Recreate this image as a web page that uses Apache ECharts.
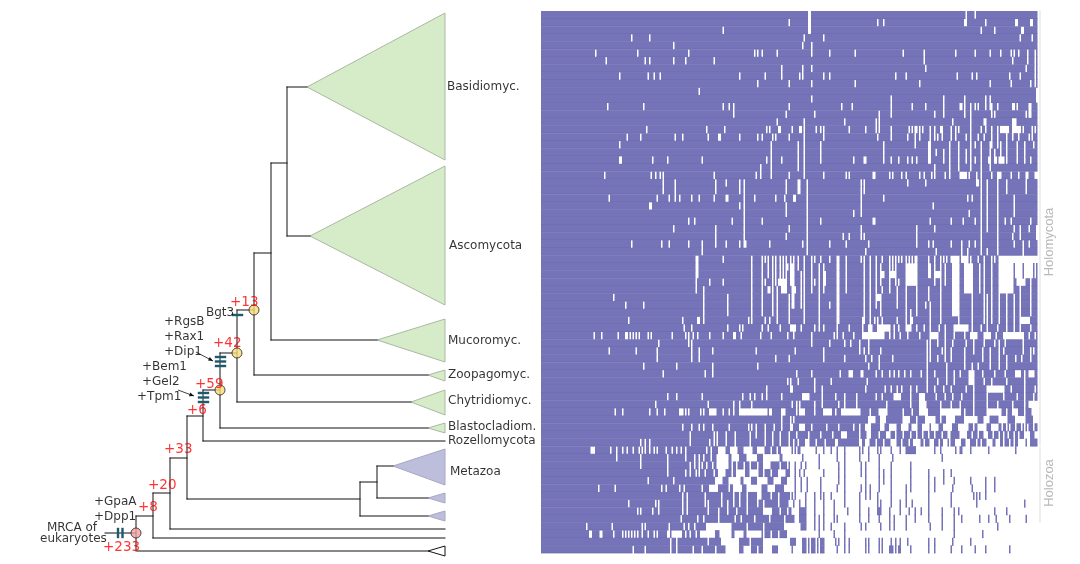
<!DOCTYPE html>
<html><head><meta charset="utf-8">
<style>html,body{margin:0;padding:0;background:#fff}#c{width:1080px;height:564px;filter:blur(0.4px)}</style>
<script src="https://cdn.jsdelivr.net/npm/echarts@6/dist/echarts.min.js"></script>
</head><body><div id="c"></div>
<script>
// Presence / absence matrix: 71 taxa rows x 331 gene columns
const colCount = 331, rowCount = 71, denseFromRow = 57, denseFromCol = 166;
// absent gene columns for each row: a number or an inclusive [from,to] run
const absentRuns = [
[178,179,283,289],
[165,178,179,224,228,282,283,296,[316,317],[326,327]],
[121,178,179,293,302,320,321],
[60,72,175,188,319,327],
[88,174,180],
[36,64,98,142,144,147,157,180,192,209,241,255,276,289,299,306,313,315,318,324,329],
[43,69,72,88,96,115,255,314,324,329],
[160,174,180,256,323,329],
[52,71,75,79,132,149,160,172,174,188,192,236,243,277,287,290,312,319,329],
[144,165,180,209,252,299,313,326,329],
[105,330],
[180,233,268,282,296,299,330],
[44,68,121,125,128,165,200,207,233,247,256,268,279,280,282,286,289,291,296,299,300,304,[314,315],317,325,326],
[128,163,182,225,233,262,268,282,286,300,302,323,325,326],
[157,175,202,223,225,274,286,295,296,[314,316]],
[70,110,122,150,152,[158,159],167,172,173,175,183,186,188,205,216,223,225,233,245,247,249,250,252,254,259,262,266,267,273,276,278,286,293,296,300,304,[306,311],[314,319],321,327,329],
[57,66,89,94,111,118,119,132,144,147,154,156,165,175,188,224,233,244,249,252,259,262,264,267,273,276,283,286,291,295,300,304,310,314,318,325,327],
[52,153,171,175,186,228,249,[258,259],272,278,286,289,293,[299,300],304,306,310,317,322,328],
[153,171,175,186,228,[258,259],263,268,272,278,283,286,293,299,302,306,310,317,322],
[[52,53],74,84,107,150,153,160,171,175,186,208,[215,216],228,233,238,244,247,250,[258,259],268,272,278,283,286,289,293,[298,299],[302,303],[305,308],310,317,322,326],
[146,153,171,175,262,272,278,286,293,299],
[42,73,76,79,81,115,143,146,153,165,175,188,203,205,[221,222],232,234,240,243,252,255,260,262,269,272,[279,283],285,290,293,300,[304,306],313,318,323,324,[329,330]],
[81,89,116,123,132,135,163,171,172,177,213,215,244,256,[290,291],293,297,304,310,323],
[81,89,116,132,135,163,171,172,177,213,215,293,297,304,310,323],
[45,77,85,89,92,100,105,115,[123,124],135,142,156,162,[168,169],177,213,228,284,287,293,297,304,315],
[72,73,132,135,163,177,213,261,293,297,304,315],
[135,163,177,208,213,285,293,297,304,315],
[98,102,127,135,147,177,186,[221,222],259,273,281,289,293,297,304,309,313,326],
[88,116,135,165,177,213,250,262,293,297,304,315,319,325,330],
[116,135,163,177,201,205,213,215,250,293,304,314,319,330],
[60,80,85,98,107,116,123,132,[135,136],152,174,177,192,203,218,250,258,261,273,280,285,289,293,304,315,321,325],
[107,177,216,263,280,284,293,297,304,321],
[[103,104],121,140,147,149,151,154,156,159,161,163,166,168,171,175,180,182,186,192,197,198,203,213,215,219,223,227,232,234,236,238,240,243,245,247,249,250,258,262,266,268,270,[273,278],[280,284],286,291,295,300,302,[305,314],[315,330]],
[[103,104],140,147,151,154,156,159,161,[163,164],[166,168],171,175,180,185,188,197,198,203,215,219,223,226,232,234,236,[243,250],[258,259],262,266,269,[274,278],[282,287],292,295,300,[305,314],[316,320],[322,327],329],
[[103,104],140,147,151,154,156,159,161,163,[166,168],173,175,180,185,[188,189],197,198,203,215,219,223,[226,228],[232,236],[243,250],[258,259],[262,266],269,[274,278],[282,287],292,295,300,[305,314],[316,320],[322,327],329],
[103,112,121,140,147,149,154,156,[158,163],[166,168],173,175,180,182,185,[188,189],197,198,203,215,219,223,226,232,236,238,[243,250],262,266,269,[274,278],[282,287],292,295,300,[305,314],[317,322],326],
[103,108,140,147,[151,152],154,157,[160,163],[167,169],173,175,180,185,188,197,198,203,215,219,223,227,232,237,243,250,258,266,[274,278],[282,287],292,295,300,[305,314],319,326],
[48,108,124,140,147,154,157,165,167,168,173,175,185,197,198,215,219,[223,226],237,243,250,258,266,[274,278],287,295,297,300,305,310,315,319,326],
[56,68,108,124,140,147,154,157,165,[167,168],173,175,185,192,197,198,215,219,223,226,237,243,250,256,259,266,[274,278],287,295,297,300,305,310,315,319,326],
[108,124,140,147,154,157,165,175,185,197,198,215,219,226,243,246,250,259,266,[274,278],287,295,297,300,305,310,315,319,326],
[58,94,104,105,108,138,140,149,152,157,165,175,185,197,198,214,215,219,222,224,227,237,243,[246,247],259,266,278,287,295,297,300,305,310,315,[319,325]],
[95,100,124,132,134,147,151,159,[166,169],173,182,185,188,197,205,214,[218,220],[224,232],235,238,[243,246],250,255,259,265,269,[275,284],287,293,297,304,310,315,319,326],
[35,40,51,56,57,59,61,63,65,71,73,87,96,98,101,104,112,121,128,129,133,146,153,164,168,180,195,197,201,208,[214,228],232,235,239,244,252,[259,264],269,275,282,[286,290],[295,299],303,[308,321],325,329],
[78,98,100,180,192,202,206,212,218,257,259,264,269,274,283,288,295,302,305,309,321],
[45,63,77,100,105,114,143,169,188,212,215,218,226,257,259,267,269,273,282,288,294,299,305,308,321,326,328],
[77,100,105,156,165,188,202,216,220,225,234,257,259,264,269,273,282,294,299,305,310,316,320,326],
[68,90,114,144,218,225,257,270,282,287,291,299,305,310],
[81,109,114,170,180,199,[205,207],[213,214],223,227,232,235,238,242,246,253,257,262,270,275,279,[285,288],294,302,309,[316,319],322,[325,328]],
[164,166,171,182,193,217,257,264,270,275,[285,288],295,300,310,322],
[150,166,167,182,187,216,229,233,237,240,246,250,257,262,268,273,283,288,[297,308],313,322,329],
[84,90,107,134,139,142,147,150,160,[174,178],187,196,202,210,223,227,[235,239],246,[252,255],263,269,274,280,288,297,308,317,322,328],
[76,111,128,132,140,172,167,170,182,187,198,202,210,230,246,[252,256],266,273,279,288,297,304,314,322,[325,330]],
[49,54,72,77,82,[92,94],96,98,106,108,[112,116],121,125,128,[132,150],[152,153],[160,162],170,[172,175],182,[188,193],196,[200,212],219,[225,230],241,247,[252,257],[266,279],282,288,[297,306],310,[314,317],322,[327,330]],
[160,166,168,[218,222],[226,229],[241,245],250,[256,262],266,[270,275],[282,290],[295,298],[305,310],[316,322],[328,330]],
[94,100,105,108,114,125,138,140,143,149,155,160,166,167,[172,175],180,190,198,208,212,[216,219],[226,228],[232,236],[240,244],[247,250],[254,258],[260,264],[268,273],[278,284],288,[291,296],[300,304],307,310,312,316,320,322,324,328],
[99,115,117,123,129,139,143,149,154,159,165,170,178,186,194,[200,203],212,[217,219],225,[230,232],236,241,246,250,254,258,262,267,[271,272],[279,283],287,291,[295,297],301,305,308,311,315,318,[322,325],[329,330]],
[66,69,72,99,112,115,117,123,129,139,149,154,159,165,168,171,[176,178],183,189,[196,197],[212,213],[216,218],223,228,[233,236],240,245,[248,252],255,[259,261],265,[268,270],272,[276,279],[283,285],290,293,[297,300],[303,305],308,312,315,[318,322],[324,325]],
[33,34,35,46,50,54,57,61,65,67,69,72,75,77,83,87,90,93,96,110,113,[118,122],[126,130],[135,140],[144,148],153,157,[160,165]],
[50,66,84,96,102,105,108,113,[117,124],[127,131],[137,143],[148,158],[161,165]],
[66,84,99,102,105,107,110,114,[117,124],127,130,135,139,144,[148,152],159,164],
[84,96,99,103,105,109,115,[118,122],127,[130,135],[139,144],148,153,[158,162]],
[71,88,[116,120],[125,132],[135,139],[144,150],[155,159],[164,165]],
[38,49,80,83,92,95,107,[112,117],125,[128,133],[137,146],[151,155],[162,165]],
[94,97,109,120,128,132,137,[144,146],153,158],
[58,76,78,94,97,109,111,120,124,128,132,137,144,148,158,165],
[64,66,74,78,94,97,111,118,124,130,137,[148,153],159,164],
[93,104,108,118,129,133,142,152,162],
[30,47,67,69,85,95,98,102,[110,126],137,148,[162,165]],
[32,33,39,40,48,54,56,58,60,62,64,67,71,75,77,[84,85],[87,93],96,99,103,[106,115],[119,126],[129,134],[137,146],148,153,158,[164,165]],
[86,90,111,[120,131],139,[148,165]],
[61,69,86,90,101,107,116,[123,131],[135,139],144,[148,153],158,[159,165]]
];
// from denseFromRow down, columns past denseFromCol are absent except these
const presentRuns = [
[167,169,171,172,183,188,193,197,202,212,214,218,224,226,233,239,[243,249],262,266,276,[279,280],286,298,316],
[174,185,197,202,212,218,225,234,267],
[169,173,176,185,198,202,213,216,225,233,246],
[169,172,175,188,198,202,213,216,225,228,233,246,258,268,273],
[169,173,177,186,198,202,216,225,228,233,246,258,262,268,275,286,296,302],
[169,173,177,186,197,202,213,216,219,225,233,243,246,258,262,274,287,296,302],
[167,169,176,182,186,188,193,202,212,216,219,224,233,243,258,273,288,290,292,296],
[168,172,176,182,188,195,202,212,224,226,233,239,243,247,258,273,290,322],
[166,[172,176],182,188,195,204,212,218,[224,226],232,239,245,249,253,258,267,275,278,302,310],
[[166,168],[172,176],182,185,188,195,197,212,218,225,232,235,243,249,258,267,275,280,292,298,303,312,323],
[[173,176],182,185,188,193,202,213,216,226,232,235,243,259,267,275,304],
[185,195,202,275,294],
[[166,169],[174,176],178,[180,182],184,[186,188],196,198,202,205,216,218,225,227,233,236,239,244,258,262,274,286],
[167,[174,176],178,[180,182],184,[186,188],197,202,205,216,218,225,227,[232,234],236,[238,239],246,258,262,273,280,289,296,312]
];
// Tree: branches as [x1,y1,x2,y2] in drawing units
const branches = [
[105,533,136,533],[136,516,136,551],[136,516,153,516],[137,551,428,551],
[153,493,153,538],[153,538,445,538],[153,493,170,493],
[170,458,170,529],[170,529,445,529],[170,458,187,458],
[187,416,187,499],[187,499,360,499],[360,482,360,516],[360,516,428,516],[360,482,377,482],
[377,466,377,498],[377,466,393,466],[377,498,428,498],
[187,416,203,416],[203,390,203,441],[203,441,445,441],[203,390,220,390],
[220,353,220,428],[220,428,428,428],[220,353,237,353],
[237,310,237,402],[237,402,411,402],[237,310,254,310],
[254,253,254,375],[254,375,428,375],[254,253,271,253],
[271,163,271,340],[271,340,377,340],[271,163,287,163],
[287,87,287,236],[287,87,307,87],[287,236,310,236]
];
// Collapsed clades as [apexX,apexY,tipX,tipTop,tipBottom]
const fungiClades = [[307,87,445,13,160],[310,236,445,166,305],[377,340,445,319,362],[428,375,445,370,381],[411,402,445,390,415],[428,428,445,423,433]];
const holozoaClades = [[393,466,445,449,485],[428,498,445,493,503],[428,516,445,511,521]];
const outgroupClades = [[428,551,445,546,556]];
const geneMarks = [[233,315,242,315],[216,357,225,357],[216,361.5,225,361.5],[216,366,225,366],[199,393,208,393],[199,397.5,208,397.5],[199,402,208,402],[118,529,118,537],[122.5,529,122.5,537]];
const arrows = [[196,352,213,361],[178,390,194,396]];
const sideRules = [[1040,11,1040,445],[1040,447,1040,522]];
const rootNode = [[136,533]];
const ancestorNodes = [[254,310],[237,353],[220,390]];
const taxaLabels = [["Basidiomyc.",447,87],["Ascomycota",449,245.5],["Mucoromyc.",448,340.5],["Zoopagomyc.",448,375],["Chytridiomyc.",448,401],["Blastocladiom.",448,427],["Rozellomycota",448,441],["Metazoa",450,471.5]];
const geneLabels = [["+RgsB",164,321.5],["+Rax1",164,336.5],["+Dip1",164,351.5],["+Bem1",142,366.5],["+Gel2",142,381.5],["+Tpm1",137,396.5],["Bgt3",206,312.5],["+GpaA",94,501.5],["+Dpp1",94,516.5],["MRCA of",47,527.5],["eukaryotes",40,538.5]];
const gainLabels = [["+13",230,302],["+42",213,343],["+59",195,384],["+6",187,410],["+33",164,449],["+20",148,485],["+8",138,507],["+233",103,547]];
const sideLabels = [["Holomycota",1049,242],["Holozoa",1049,483]];

function expand(list, arr, val) {
  list.forEach(function (it) {
    const a = Array.isArray(it) ? it[0] : it, b = Array.isArray(it) ? it[1] : it;
    for (let c = a; c <= b && c < colCount; c++) arr[c] = val;
  });
}
const cellRuns = [];
for (let r = 0; r < rowCount; r++) {
  const present = new Array(colCount).fill(1);
  expand(absentRuns[r], present, 0);
  if (r >= denseFromRow) {
    for (let c = denseFromCol; c < colCount; c++) present[c] = 0;
    expand(presentRuns[r - denseFromRow], present, 1);
  }
  let start = -1;
  for (let c = 0; c <= colCount; c++) {
    if (c < colCount && present[c]) { if (start < 0) start = c; }
    else if (start >= 0) { cellRuns.push([start, c, r]); start = -1; }
  }
}
const ink = '#111111', teal = '#1d5a6c';
function segSeries(data, color, width, z) {
  return { type: 'custom', xAxisIndex: 1, yAxisIndex: 1, z: z, silent: true, clip: false, data: data,
    encode: { x: [0, 2], y: [1, 3] },
    renderItem: function (p, api) {
      const a = api.coord([api.value(0), api.value(1)]), b = api.coord([api.value(2), api.value(3)]);
      return { type: 'line', shape: { x1: a[0], y1: a[1], x2: b[0], y2: b[1] }, style: { stroke: color, lineWidth: width, lineCap: 'square' } };
    } };
}
function cladeSeries(data, fill, stroke) {
  return { type: 'custom', xAxisIndex: 1, yAxisIndex: 1, z: 3, silent: true, clip: false, data: data,
    encode: { x: [0, 2], y: [1, 3, 4] },
    renderItem: function (p, api) {
      const pts = [api.coord([api.value(0), api.value(1)]), api.coord([api.value(2), api.value(3)]), api.coord([api.value(2), api.value(4)])];
      return { type: 'polygon', shape: { points: pts }, style: { fill: fill, stroke: stroke, lineWidth: 1 } };
    } };
}
function labelSeries(data, color, size, pos, rot, family) {
  return { type: 'scatter', xAxisIndex: 1, yAxisIndex: 1, z: 8, silent: true, symbolSize: 0, clip: false,
    data: data.map(function (d) { return { name: d[0], value: [d[1], d[2]] }; }),
    label: { show: true, formatter: '{b}', position: pos, distance: 0, rotate: rot || 0, color: color, fontSize: size, fontFamily: family || 'DejaVu Sans' } };
}
const chart = echarts.init(document.getElementById('c'), null, { renderer: 'canvas' });
chart.setOption({
  animation: false,
  grid: [{ left: 541, top: 11, width: 496.5, height: 542 }, { left: 0, top: 0, width: 1080, height: 564 }],
  xAxis: [{ type: 'value', min: 0, max: colCount, show: false, gridIndex: 0 }, { type: 'value', min: 0, max: 1080, show: false, gridIndex: 1 }],
  yAxis: [{ type: 'value', min: 0, max: rowCount, inverse: true, show: false, gridIndex: 0 }, { type: 'value', min: 0, max: 564, inverse: true, show: false, gridIndex: 1 }],
  series: [
    { type: 'custom', xAxisIndex: 0, yAxisIndex: 0, z: 2, silent: true, progressive: 0, data: cellRuns,
      encode: { x: [0, 1], y: 2 },
      renderItem: function (p, api) {
        const a = api.coord([api.value(0), api.value(2)]), b = api.coord([api.value(1), api.value(2) + 1]);
        return { type: 'group', children: [
          { type: 'rect', shape: { x: a[0], y: a[1], width: b[0] - a[0], height: b[1] - a[1] + 0.3 }, style: { fill: '#7674b8' } },
          { type: 'line', shape: { x1: a[0], y1: b[1], x2: b[0], y2: b[1] }, style: { stroke: 'rgba(90,88,160,0.4)', lineWidth: 0.8 } }
        ] };
      } },
    cladeSeries(fungiClades, '#d6ebc8', '#a9b8a3'),
    cladeSeries(holozoaClades, '#bdbddc', '#a6a6c6'),
    cladeSeries(outgroupClades, '#ffffff', '#111111'),
    segSeries(branches, ink, 1, 4),
    segSeries(sideRules, '#dddddd', 1, 2),
    segSeries(geneMarks, teal, 2.4, 5),
    { type: 'custom', xAxisIndex: 1, yAxisIndex: 1, z: 5, silent: true, data: arrows,
      encode: { x: [0, 2], y: [1, 3] },
      renderItem: function (p, api) {
        const a = api.coord([api.value(0), api.value(1)]), b = api.coord([api.value(2), api.value(3)]);
        const t = Math.atan2(b[1] - a[1], b[0] - a[0]), L = 5, w = 0.4;
        return { type: 'group', children: [
          { type: 'line', shape: { x1: a[0], y1: a[1], x2: b[0], y2: b[1] }, style: { stroke: ink, lineWidth: 0.8 } },
          { type: 'polygon', shape: { points: [b, [b[0] - L * Math.cos(t - w), b[1] - L * Math.sin(t - w)], [b[0] - L * Math.cos(t + w), b[1] - L * Math.sin(t + w)]] }, style: { fill: ink } }
        ] };
      } },
    { type: 'scatter', xAxisIndex: 1, yAxisIndex: 1, z: 6, silent: true, symbolSize: 10, data: rootNode, itemStyle: { color: '#f4a3a0', borderColor: '#222', borderWidth: 1 } },
    { type: 'scatter', xAxisIndex: 1, yAxisIndex: 1, z: 6, silent: true, symbolSize: 10, data: ancestorNodes, itemStyle: { color: '#fbdc78', borderColor: '#222', borderWidth: 1 } },
    labelSeries(taxaLabels, '#000000', 12, 'right'),
    labelSeries(geneLabels, '#000000', 12, 'right'),
    labelSeries(gainLabels, '#ff0000', 13.5, 'right'),
    labelSeries(sideLabels, '#a8a8a8', 13, 'inside', 90, 'Liberation Sans')
  ]
});
</script></body></html>
